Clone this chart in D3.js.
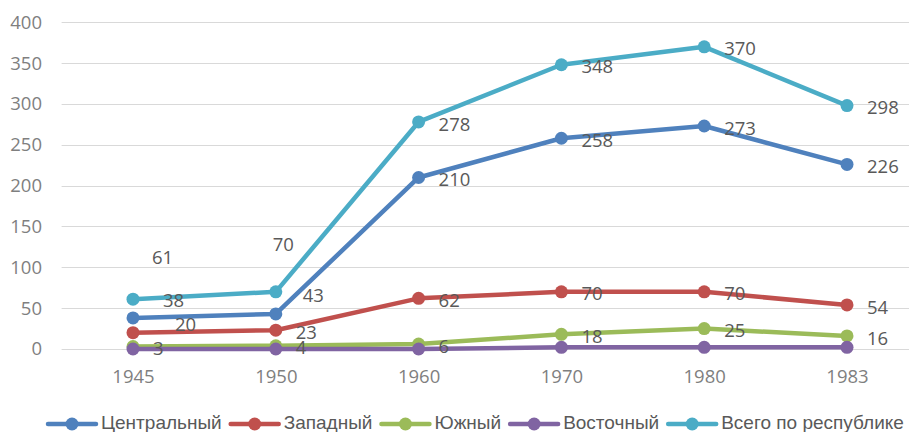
<!DOCTYPE html>
<html lang="ru">
<head>
    <meta charset="UTF-8">
    <title>Динамика по районам</title>
    <script src="https://cdn.jsdelivr.net/npm/d3@7"></script>
    <style>
        body { margin: 0; background: white; }
        text { font-family: "Open Sans", "Liberation Sans", sans-serif; }
        .tick-label { font-size: 18.5px; fill: #7f7f7f; }
        .data-label { font-size: 18.5px; fill: #595959; }
        .legend-label { font-family: "Liberation Sans", sans-serif; font-size: 19px; fill: #595959; }
        .grid { stroke: #d9d9d9; stroke-width: 1; }
    </style>
</head>
<body>
<svg id="chart" width="909" height="432"></svg>
<script>
    // data
    const years = ["1945", "1950", "1960", "1970", "1980", "1983"];
    const seriesNames = ["Центральный", "Западный", "Южный", "Восточный", "Всего по республике"];
    const central = [38, 43, 210, 258, 273, 226];
    const western = [20, 23, 62, 70, 70, 54];
    const southern = [3, 4, 6, 18, 25, 16];
    const eastern = [0, 0, 0, 2, 2, 2];
    const total = [61, 70, 278, 348, 370, 298];
    const yTicks = [0, 50, 100, 150, 200, 250, 300, 350, 400];

    const colors = ["#4f81bd", "#c0504d", "#9bbb59", "#8064a2", "#4bacc6"];
    const seriesValues = [central, western, southern, eastern, total];
    const showLabels = [true, true, true, false, true];

    const series = seriesNames.map((name, i) => ({
        name: name,
        color: colors[i],
        labels: showLabels[i],
        values: seriesValues[i].map((v, j) => ({ year: years[j], value: v, idx: j }))
    }));

    const svg = d3.select("#chart");

    const x = d3.scalePoint()
        .domain(years)
        .range([61.6, 918.4])
        .padding(0.5);

    const y = d3.scaleLinear()
        .domain([0, 400])
        .range([349, 22.3]);

    // gridlines
    svg.append("g").selectAll("line")
        .data(yTicks)
        .enter().append("line")
        .attr("class", "grid")
        .attr("x1", 61.6).attr("x2", 909)
        .attr("y1", d => Math.round(y(d)) + 0.5)
        .attr("y2", d => Math.round(y(d)) + 0.5);

    // y axis labels
    const yAxis = svg.append("g")
        .attr("transform", "translate(42,0)")
        .call(d3.axisLeft(y).tickValues(yTicks).tickSize(0).tickPadding(0));
    yAxis.select(".domain").remove();
    yAxis.selectAll("text").attr("class", "tick-label").attr("font-family", null).attr("font-size", null).attr("fill", null);

    // x axis labels
    const xAxis = svg.append("g")
        .attr("transform", "translate(0,370)")
        .call(d3.axisBottom(x).tickSize(0).tickPadding(0));
    xAxis.select(".domain").remove();
    xAxis.selectAll("text").attr("class", "tick-label").attr("font-family", null).attr("font-size", null).attr("fill", null);

    const line = d3.line()
        .x(d => x(d.year))
        .y(d => y(d.value));

    const plot = svg.append("g");
    series.forEach(s => {
        plot.append("path")
            .datum(s.values)
            .attr("fill", "none")
            .attr("stroke", s.color)
            .attr("stroke-width", 4.5)
            .attr("stroke-linejoin", "round")
            .attr("stroke-linecap", "round")
            .attr("d", line);
        plot.selectAll(null)
            .data(s.values)
            .enter().append("circle")
            .attr("cx", d => x(d.year))
            .attr("cy", d => y(d.value))
            .attr("r", 6.5)
            .attr("fill", s.color);
    });

    // labels sit to the right of the point, a few were dragged by hand
    const labelNudge = {
        "4-0": [19, -42], "4-1": [-3, -47],
        "0-0": [30, -18], "0-1": [27, -19],
        "1-0": [42, -8]
    };
    const labels = svg.append("g");
    series.forEach((s, si) => {
        if (!s.labels) return;
        labels.selectAll(null)
            .data(s.values)
            .enter().append("text")
            .attr("class", "data-label")
            .attr("x", d => x(d.year) + (labelNudge[si + "-" + d.idx] || [20, 2])[0])
            .attr("y", d => y(d.value) + (labelNudge[si + "-" + d.idx] || [20, 2])[1])
            .attr("dy", "0.36em")
            .text(d => d.value);
    });

    // legend
    const legend = svg.append("g").attr("transform", "translate(0,424)");
    let lx = 48;
    series.forEach(s => {
        const g = legend.append("g").attr("transform", `translate(${lx},0)`);
        g.append("line")
            .attr("x1", 0).attr("x2", 48)
            .attr("stroke", s.color).attr("stroke-width", 4.5)
            .attr("stroke-linecap", "round");
        g.append("circle").attr("cx", 24).attr("r", 6.5).attr("fill", s.color);
        const t = g.append("text")
            .attr("class", "legend-label")
            .attr("x", 53)
            .attr("y", 5)
            .text(s.name);
        lx += 53 + t.node().getComputedTextLength() + 9;
    });
</script>
</body>
</html>
